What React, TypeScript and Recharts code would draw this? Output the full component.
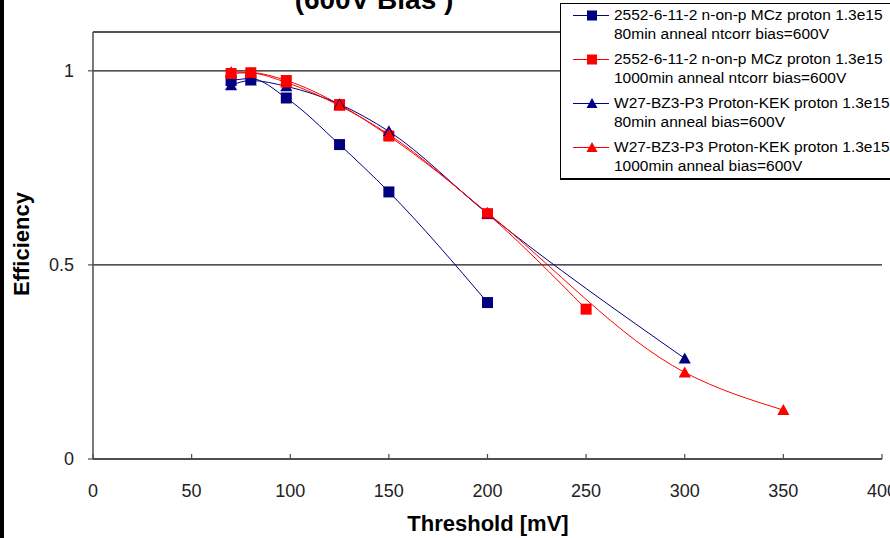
import React from 'react';
import {
  ComposedChart,
  Line,
  XAxis,
  YAxis,
  CartesianGrid,
  Legend,
  Label,
} from 'recharts';

// Efficiency vs. threshold, 600 V bias
const thresholdMczShort = [70, 80, 98, 125, 150, 200];
const efficiencyMczShort = [0.975, 0.98, 0.93, 0.81, 0.688, 0.403];

const thresholdMczLong = [70, 80, 98, 125, 150, 200, 250];
const efficiencyMczLong = [0.993, 0.995, 0.975, 0.913, 0.832, 0.632, 0.386];

const thresholdKekShort = [70, 80, 98, 125, 150, 200, 300];
const efficiencyKekShort = [0.963, 0.975, 0.96, 0.914, 0.844, 0.632, 0.259];

const thresholdKekLong = [70, 80, 98, 125, 150, 200, 300, 350];
const efficiencyKekLong = [0.997, 0.995, 0.97, 0.91, 0.836, 0.634, 0.223, 0.126];

const xTicks = [0, 50, 100, 150, 200, 250, 300, 350, 400];
const yTicks = [0, 0.5, 1];

const seriesNames = [
  ['2552-6-11-2 n-on-p MCz proton 1.3e15', '80min anneal ntcorr bias=600V'],
  ['2552-6-11-2 n-on-p MCz proton 1.3e15', '1000min anneal ntcorr bias=600V'],
  ['W27-BZ3-P3 Proton-KEK proton 1.3e15', '80min anneal bias=600V'],
  ['W27-BZ3-P3 Proton-KEK proton 1.3e15', '1000min anneal bias=600V'],
];

const NAVY = '#000080';
const RED = '#ff0000';
const FONT = '"Liberation Sans", Arial, sans-serif';

const toPoints = (xs: number[], ys: number[]) =>
  xs.map((x, i) => ({ threshold: x, efficiency: ys[i] }));

const series = [
  { key: 'mcz80', data: toPoints(thresholdMczShort, efficiencyMczShort), color: NAVY, marker: 'square' },
  { key: 'mcz1000', data: toPoints(thresholdMczLong, efficiencyMczLong), color: RED, marker: 'square' },
  { key: 'kek80', data: toPoints(thresholdKekShort, efficiencyKekShort), color: NAVY, marker: 'triangle' },
  { key: 'kek1000', data: toPoints(thresholdKekLong, efficiencyKekLong), color: RED, marker: 'triangle' },
];

const Marker = ({ cx, cy, color, kind, size = 11 }: any) => {
  if (cx == null || cy == null) return null;
  if (kind === 'square') {
    return (
      <rect x={cx - size / 2} y={cy - size / 2} width={size} height={size} fill={color} stroke="none" />
    );
  }
  const h = size;
  return (
    <polygon
      points={`${cx},${cy - h * 0.55} ${cx - h * 0.55},${cy + h * 0.45} ${cx + h * 0.55},${cy + h * 0.45}`}
      fill={color}
      stroke="none"
    />
  );
};

const XTick = ({ x, y, payload }: any) => (
  <g>
    <line x1={x} y1={y} x2={x} y2={y - 5} stroke="#4d4d4d" strokeWidth={1.2} />
    <text x={x} y={y + 38} textAnchor="middle" fontFamily={FONT} fontSize={18} fill="#222">
      {payload.value}
    </text>
  </g>
);

const LegendBox = () => (
  <div
    style={{
      border: '1px solid #000',
      borderBottomWidth: 2,
      background: '#fff',
      padding: '2px 0 3px 12px',
      width: 360,
      boxSizing: 'border-box',
      fontFamily: FONT,
      fontSize: 15.5,
      lineHeight: '18.5px',
      color: '#000',
    }}
  >
    {series.map((s, i) => (
      <div key={s.key} style={{ display: 'flex', alignItems: 'flex-start', marginTop: i === 0 ? 0 : 7 }}>
        <svg width={36} height={18} style={{ flex: '0 0 auto', marginRight: 5 }}>
          <line x1={0} y1={9.5} x2={36} y2={9.5} stroke={s.color} strokeWidth={1.2} />
          <Marker cx={19} cy={9.5} color={s.color} kind={s.marker} size={10} />
        </svg>
        <div style={{ whiteSpace: 'nowrap' }}>
          <div>{seriesNames[i][0]}</div>
          <div>{seriesNames[i][1]}</div>
        </div>
      </div>
    ))}
  </div>
);

export default function App() {
  return (
    <div style={{ position: 'absolute', left: 0, top: 0, width: 890, height: 538, overflow: 'hidden', background: '#fff' }}>
      <div style={{ position: 'absolute', left: 0, top: 0, width: 4, height: 538, background: '#000', zIndex: 2 }} />
      <ComposedChart
        width={890}
        height={538}
        margin={{ top: 32, right: 8, bottom: 49, left: 0 }}
        style={{ fontFamily: FONT }}
      >
        <text x={374} y={9} textAnchor="middle" fontFamily={FONT} fontSize={28} fontWeight="bold" fill="#000">
          (600V Bias )
        </text>
        <CartesianGrid vertical={false} stroke="#1a1a1a" strokeWidth={1.3} />
        <XAxis
          type="number"
          dataKey="threshold"
          domain={[0, 400]}
          ticks={xTicks}
          allowDataOverflow
          height={30}
          axisLine={{ stroke: '#4d4d4d', strokeWidth: 1.5 }}
          tickLine={false}
          tickSize={0}
          tickMargin={0}
          tick={<XTick />}
          interval={0}
        >
          <Label
            content={() => (
              <text x={488} y={531} textAnchor="middle" fontFamily={FONT} fontSize={22} fontWeight="bold" fill="#000">
                Threshold [mV]
              </text>
            )}
          />
        </XAxis>
        <YAxis
          type="number"
          dataKey="efficiency"
          domain={[0, 1.1]}
          ticks={yTicks}
          width={93}
          axisLine={{ stroke: '#4d4d4d', strokeWidth: 1.5 }}
          tickLine={{ stroke: '#4d4d4d', strokeWidth: 1.2 }}
          tickSize={5}
          tickMargin={14}
          tick={{ fontFamily: FONT, fontSize: 18, fill: '#222' }}
          tickFormatter={(v: number) => String(v)}
        >
          <Label
            content={() => (
              <text
                x={0}
                y={0}
                transform="translate(29 244) rotate(-90)"
                textAnchor="middle"
                fontFamily={FONT}
                fontSize={22}
                fontWeight="bold"
                fill="#000"
              >
                Efficiency
              </text>
            )}
          />
        </YAxis>
        <Legend
          layout="vertical"
          align="center"
          verticalAlign="middle"
          content={<LegendBox />}
          wrapperStyle={{ position: 'absolute', left: 560, top: 3, width: 360 }}
        />
        {series.map((s) => (
          <Line
            key={s.key}
            data={s.data}
            dataKey="efficiency"
            type="monotone"
            stroke={s.color}
            strokeWidth={1}
            dot={(p: any) => <Marker key={`${s.key}-${p.index}`} cx={p.cx} cy={p.cy} color={s.color} kind={s.marker} />}
            activeDot={false}
            isAnimationActive={false}
          />
        ))}
      </ComposedChart>
    </div>
  );
}
